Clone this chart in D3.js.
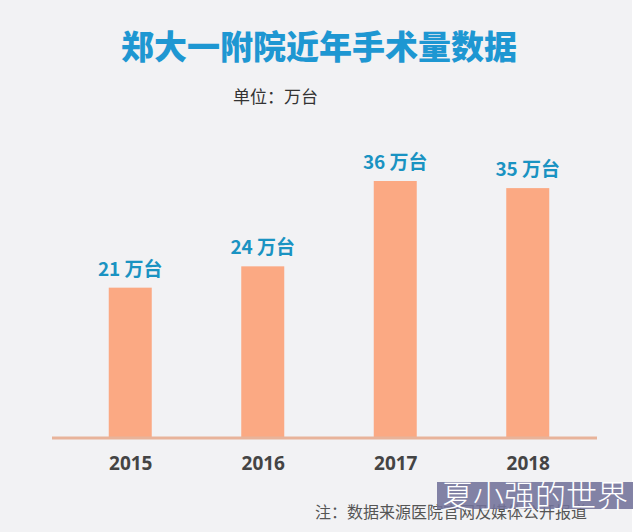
<!DOCTYPE html>
<html>
<head>
<meta charset="utf-8">
<script src="https://cdn.jsdelivr.net/npm/d3@7"></script>
<style>
  html, body { margin: 0; padding: 0; background: #fff; }
  svg { display: block; }
</style>
</head>
<body>
<div id="chart"></div>
<script>
// data
const years = ['2015', '2016', '2017', '2018'];
const counts = [21, 24, 36, 35];
const unitSuffix = '万台';

const title = '郑大一附院近年手术量数据';
const unitNote = '单位：万台';
const sourceNote = '注：数据来源医院官网及媒体公开报道';
const stamp = '夏小强的世界';

const dims = { width: 640, height: 532, baseline: 437 };
const cjk = '"Noto Sans CJK SC", "Noto Sans", sans-serif';

const svg = d3.select('#chart')
  .append('svg')
  .attr('width', dims.width)
  .attr('height', dims.height);

// background (light grey panel with a thin white edge on the right)
svg.append('rect')
  .attr('x', 0).attr('y', 0)
  .attr('width', 632).attr('height', dims.height)
  .attr('fill', '#f2f2f4');

// scales
const x = d3.scalePoint()
  .domain(years)
  .range([64, 594])
  .padding(0.5);

const y = d3.scaleLinear()
  .domain([0, 36])
  .range([dims.baseline, 181]);

const barWidth = 43;

// title + unit
svg.append('text')
  .attr('x', 319).attr('y', 59)
  .attr('text-anchor', 'middle')
  .style('font-family', cjk)
  .style('font-weight', 900)
  .style('font-size', '33px')
  .attr('fill', '#1e97d2')
  .text(title);

svg.append('text')
  .attr('x', 233).attr('y', 103)
  .style('font-family', cjk)
  .style('font-size', '17px')
  .attr('fill', '#333')
  .text(unitNote);

// bars
const rows = years.map((yr, i) => ({ year: yr, value: counts[i] }));

svg.selectAll('.bar')
  .data(rows)
  .enter()
  .append('rect')
  .attr('class', 'bar')
  .attr('x', (d) => x(d.year) - barWidth / 2)
  .attr('y', (d) => y(d.value))
  .attr('width', barWidth)
  .attr('height', (d) => y(0) - y(d.value))
  .attr('fill', '#fba983');

// value labels
svg.selectAll('.value-label')
  .data(rows)
  .enter()
  .append('text')
  .attr('class', 'value-label')
  .attr('x', (d) => x(d.year))
  .attr('y', (d) => y(d.value) - 12)
  .attr('text-anchor', 'middle')
  .style('font-family', cjk)
  .style('font-weight', 700)
  .style('font-size', '19px')
  .attr('fill', '#1a93c2')
  .text((d) => `${d.value} ${unitSuffix}`);

// baseline
svg.append('line')
  .attr('x1', 52).attr('x2', 597)
  .attr('y1', dims.baseline + 1).attr('y2', dims.baseline + 1)
  .attr('stroke', '#e8b39a')
  .attr('stroke-width', 3);

// x axis labels
const xAxis = d3.axisBottom(x).tickSize(0).tickPadding(0);
const axisG = svg.append('g')
  .attr('transform', `translate(0, ${dims.baseline + 26})`)
  .call(xAxis);
axisG.select('.domain').remove();
axisG.selectAll('text')
  .attr('dy', '0.35em')
  .style('font-family', '"Open Sans", "Noto Sans", sans-serif')
  .style('font-weight', 700)
  .style('font-size', '19px')
  .attr('fill', '#444');

// source note
svg.append('text')
  .attr('x', 315).attr('y', 518)
  .style('font-family', cjk)
  .style('font-size', '16px')
  .attr('fill', '#555')
  .text(sourceNote);

// stamp overlay in the corner
svg.append('rect')
  .attr('x', 437).attr('y', 482)
  .attr('width', 196).attr('height', 27)
  .attr('fill', '#72729a')
  .attr('opacity', 0.88);

svg.append('text')
  .attr('x', 535).attr('y', 507)
  .attr('text-anchor', 'middle')
  .style('font-family', cjk)
  .style('font-weight', 300)
  .style('font-size', '31px')
  .attr('fill', '#fff')
  .text(stamp);
</script>
</body>
</html>
